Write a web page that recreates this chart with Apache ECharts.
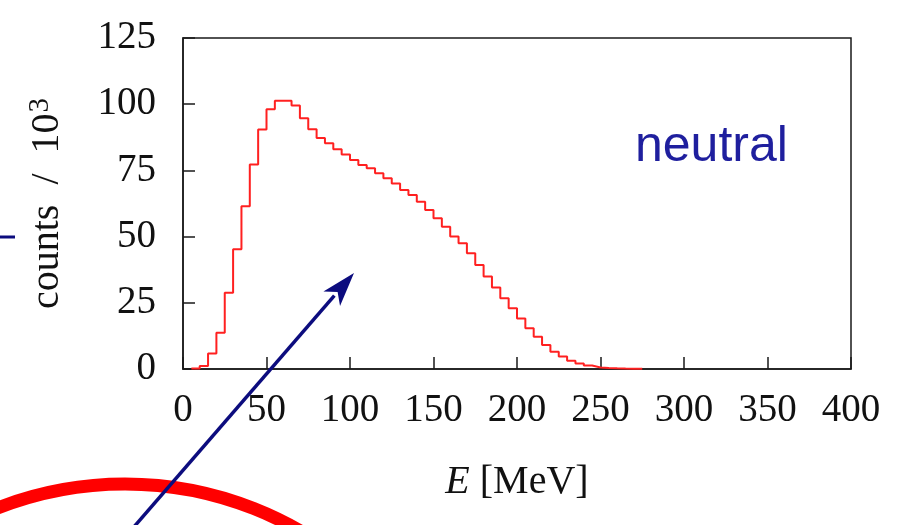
<!DOCTYPE html>
<html>
<head>
<meta charset="utf-8">
<script src="https://cdn.jsdelivr.net/npm/echarts@6/dist/echarts.min.js"></script>
<style>
  html, body { margin: 0; padding: 0; background: #fff; }
  #main { width: 923px; height: 525px; }
</style>
</head>
<body>
<div id="main"></div>
<script>
// histogram of photon energies, 5 MeV bins starting at 5 MeV (counts / 10^3)
const binStart = 5
const binWidth = 5
const counts = [
  0.2, 1.1, 5.9, 13.7, 28.8, 45.2, 61.5, 77.2, 90.4, 98.1,
  101.3, 101.3, 99.5, 94.7, 90.5, 87.2, 85.3, 83.0, 81.0, 78.9,
  77.0, 75.8, 73.9, 72.0, 70.1, 67.6, 65.7, 63.2, 60.0, 56.9,
  53.7, 50.0, 47.5, 43.7, 39.3, 34.9, 30.8, 26.7, 22.9, 19.1,
  15.4, 12.2, 9.1, 6.5, 4.7, 3.1, 2.1, 1.3, 0.6, 0.4,
  0.25, 0.15, 0.1, 0.05
]
const xTicks = [0, 50, 100, 150, 200, 250, 300, 350, 400]
const yTicks = [0, 25, 50, 75, 100, 125]
const label = "neutral"

// left edge of every bin, plus a closing point at the right edge of the last one
const stepData = counts.map((c, i) => [binStart + i * binWidth, c])
stepData.push([binStart + counts.length * binWidth, counts[counts.length - 1]])

const chart = echarts.init(document.getElementById("main"))

const serif = "'Liberation Serif', 'DejaVu Serif', serif"
const ink = "#111"

// arrow geometry (annotation, not data)
const tail = [133, 528]
const tip = [354, 273]
const len = Math.hypot(tip[0] - tail[0], tip[1] - tail[1])
const u = [(tip[0] - tail[0]) / len, (tip[1] - tail[1]) / len]
const p = [-u[1], u[0]]
const headLen = 34, headHalf = 11, notch = 25
const base = [tip[0] - headLen * u[0], tip[1] - headLen * u[1]]
const head = [
  tip,
  [base[0] + headHalf * p[0], base[1] + headHalf * p[1]],
  [tip[0] - notch * u[0], tip[1] - notch * u[1]],
  [base[0] - headHalf * p[0], base[1] - headHalf * p[1]]
]

const option = {
  animation: false,
  backgroundColor: "#fff",
  grid: {
    left: 183, right: 72, top: 38, bottom: 156,
    show: true, borderColor: "#1a1a1a", borderWidth: 1.5
  },
  xAxis: {
    type: "value",
    min: xTicks[0],
    max: xTicks[xTicks.length - 1],
    interval: xTicks[1] - xTicks[0],
    name: "{i|E} [MeV]",
    nameLocation: "middle",
    nameGap: 93,
    nameTextStyle: {
      fontFamily: serif, fontSize: 40, color: ink,
      rich: { i: { fontFamily: serif, fontSize: 40, fontStyle: "italic", color: ink } }
    },
    axisLine: { show: true, lineStyle: { color: "#1a1a1a", width: 1.5 } },
    axisTick: { inside: true, length: 12, lineStyle: { color: "#1a1a1a", width: 1.5 } },
    axisLabel: { margin: 22, fontFamily: serif, fontSize: 39, color: ink },
    splitLine: { show: false }
  },
  yAxis: {
    type: "value",
    min: yTicks[0],
    max: yTicks[yTicks.length - 1],
    interval: yTicks[1] - yTicks[0],
    name: "counts  /  10{s|3}",
    nameLocation: "middle",
    nameRotate: 90,
    nameGap: 114,
    nameTextStyle: {
      fontFamily: serif, fontSize: 40, color: ink,
      rich: { s: { fontFamily: serif, fontSize: 29, color: ink, verticalAlign: "top", padding: [0, 0, 14, 1] } }
    },
    axisLine: { show: true, lineStyle: { color: "#1a1a1a", width: 1.5 } },
    axisTick: { inside: true, length: 12, lineStyle: { color: "#1a1a1a", width: 1.5 } },
    axisLabel: { margin: 27, fontFamily: serif, fontSize: 39, color: ink },
    splitLine: { show: false }
  },
  series: [
    {
      type: "line",
      step: "end",
      data: stepData,
      symbol: "none",
      lineStyle: { color: "#ff2020", width: 2 },
      z: 3
    }
  ],
  graphic: [
    {
      type: "text",
      z: 10,
      style: {
        x: 635, y: 147, text: label,
        font: "50px 'Liberation Sans', Arial, sans-serif",
        fill: "#1f1f9e", verticalAlign: "middle"
      }
    },
    {
      type: "circle",
      z: 10,
      shape: { cx: 125, cy: 834, r: 350 },
      style: { fill: "none", stroke: "#ff0000", lineWidth: 13 }
    },
    {
      type: "line",
      z: 11,
      shape: { x1: tail[0], y1: tail[1], x2: base[0] + 4 * u[0], y2: base[1] + 4 * u[1] },
      style: { stroke: "#0c0c7e", lineWidth: 3.5 }
    },
    {
      type: "polygon",
      z: 11,
      shape: { points: head },
      style: { fill: "#0c0c7e" }
    },
    {
      type: "line",
      z: 11,
      shape: { x1: 0, y1: 237, x2: 15, y2: 237 },
      style: { stroke: "#0c0c7e", lineWidth: 3 }
    }
  ]
}

chart.setOption(option)
</script>
</body>
</html>
